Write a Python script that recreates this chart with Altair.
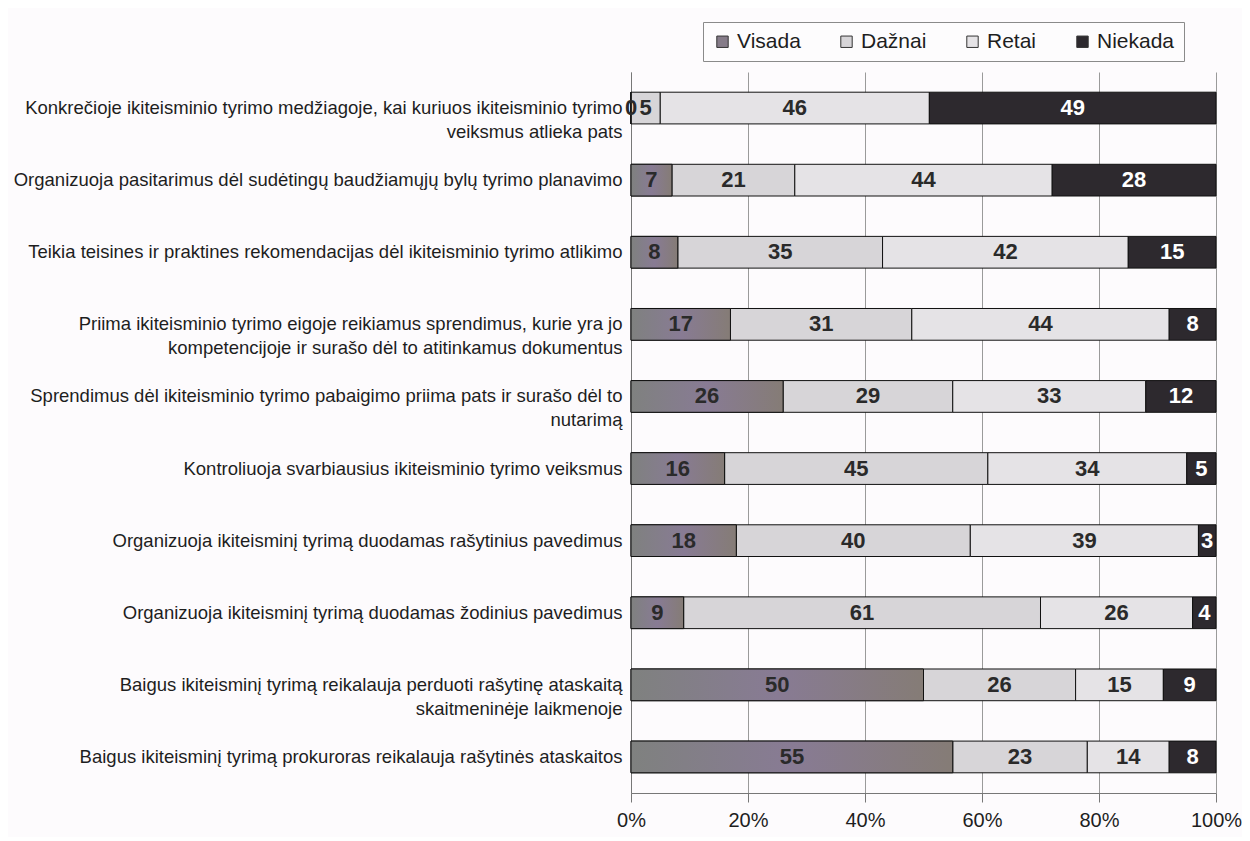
import altair as alt
import pandas as pd

categories = [
    "Konkrečioje ikiteisminio tyrimo medžiagoje, kai kuriuos ikiteisminio tyrimo\nveiksmus atlieka pats",
    "Organizuoja pasitarimus dėl sudėtingų baudžiamųjų bylų tyrimo planavimo",
    "Teikia teisines ir praktines rekomendacijas dėl ikiteisminio tyrimo atlikimo",
    "Priima ikiteisminio tyrimo eigoje reikiamus sprendimus, kurie yra jo\nkompetencijoje ir surašo dėl to atitinkamus dokumentus",
    "Sprendimus dėl ikiteisminio tyrimo pabaigimo priima pats ir surašo dėl to\nnutarimą",
    "Kontroliuoja svarbiausius ikiteisminio tyrimo veiksmus",
    "Organizuoja ikiteisminį tyrimą duodamas rašytinius pavedimus",
    "Organizuoja ikiteisminį tyrimą duodamas žodinius pavedimus",
    "Baigus ikiteisminį tyrimą reikalauja perduoti rašytinę ataskaitą\nskaitmeninėje laikmenoje",
    "Baigus ikiteisminį tyrimą prokuroras reikalauja rašytinės ataskaitos",
]
responses = ["Visada", "Dažnai", "Retai", "Niekada"]
visada = [0, 7, 8, 17, 26, 16, 18, 9, 50, 55]
daznai = [5, 21, 35, 31, 29, 45, 40, 61, 26, 23]
retai = [46, 44, 42, 44, 33, 34, 39, 26, 15, 14]
niekada = [49, 28, 15, 8, 12, 5, 3, 4, 9, 8]
colors = ["#867c89", "#d7d5d8", "#e5e3e6", "#2d292e"]
x_ticks = [0, 20, 40, 60, 80, 100]

rows = []
for i, c in enumerate(categories):
    for j, (r, vals) in enumerate(zip(responses, [visada, daznai, retai, niekada])):
        rows.append({"cat": c, "resp": r, "order": j, "value": vals[i]})
df = pd.DataFrame(rows)

base = alt.Chart(df).transform_stack(
    stack="value",
    groupby=["cat"],
    sort=[alt.SortField(field="order", order="ascending")],
    as_=["x0", "x1"],
).transform_calculate(mid="(datum.x0 + datum.x1) / 2")

y_enc = alt.Y(
    "cat:N",
    sort=categories,
    scale=alt.Scale(paddingInner=0.56, paddingOuter=0.28),
    axis=alt.Axis(
        title=None,
        labelExpr="split(datum.label, '\\n')",
        labelFontSize=18.5,
        labelLineHeight=24,
        labelColor="#1e1e1e",
        labelLimit=0,
        labelPadding=9,
        ticks=False,
        domainColor="#777777",
        grid=False,
    ),
)

x_enc = alt.X(
    "x0:Q",
    scale=alt.Scale(domain=[0, 100], nice=False),
    axis=alt.Axis(
        title=None,
        values=x_ticks,
        labelExpr="datum.value + '%'",
        labelFontSize=20,
        labelColor="#1e1e1e",
        labelPadding=8,
        labelFlush=False,
        tickSize=9,
        tickColor="#777777",
        domainColor="#777777",
        gridColor="#9a9a9a",
        gridWidth=1,
    ),
)

bars = base.mark_bar(stroke="#111111", strokeWidth=1).encode(
    x=x_enc,
    x2="x1:Q",
    y=y_enc,
    color=alt.Color(
        "resp:N",
        sort=responses,
        scale=alt.Scale(domain=responses, range=colors),
        legend=alt.Legend(
            title=None,
            orient="none",
            legendX=72,
            legendY=-50,
            direction="horizontal",
            columns=4,
            columnPadding=35,
            symbolType="square",
            symbolSize=130,
            symbolStrokeColor="#333333",
            symbolStrokeWidth=1,
            labelFontSize=21,
            labelColor="#1e1e1e",
            labelOffset=4,
            fillColor="#fdfcfd",
        ),
    ),
    order=alt.Order("order:Q"),
)

visada_grad = alt.Gradient(
    gradient="linear",
    stops=[
        alt.GradientStop(color="#7f817f", offset=0),
        alt.GradientStop(color="#887b94", offset=0.5),
        alt.GradientStop(color="#857c76", offset=1),
    ],
    x1=0, x2=1, y1=0, y2=0,
)

visada_bars = base.transform_filter(alt.datum.resp == "Visada").mark_bar(
    fill=visada_grad, stroke="#111111", strokeWidth=1
).encode(
    x="x0:Q",
    x2="x1:Q",
    y=alt.Y("cat:N", sort=categories),
)

labels = base.mark_text(fontSize=22, fontWeight="bold", baseline="middle").encode(
    x="mid:Q",
    y=alt.Y("cat:N", sort=categories),
    text="value:Q",
    color=alt.condition(alt.datum.resp == "Niekada", alt.value("#ffffff"), alt.value("#2a2a2a")),
)

chart = alt.layer(bars, visada_bars, labels).properties(
    width=585,
    height=721,
    padding={"left": 623, "top": 64, "right": 26, "bottom": 44},
    autosize="none",
    background="#fdfbfd",
).configure(font="Liberation Sans").configure_view(stroke=None).configure_legend(
    padding=9, strokeColor="#8a8a8a"
)

chart.save("out.html", embed_options={"renderer": "svg", "actions": False})
